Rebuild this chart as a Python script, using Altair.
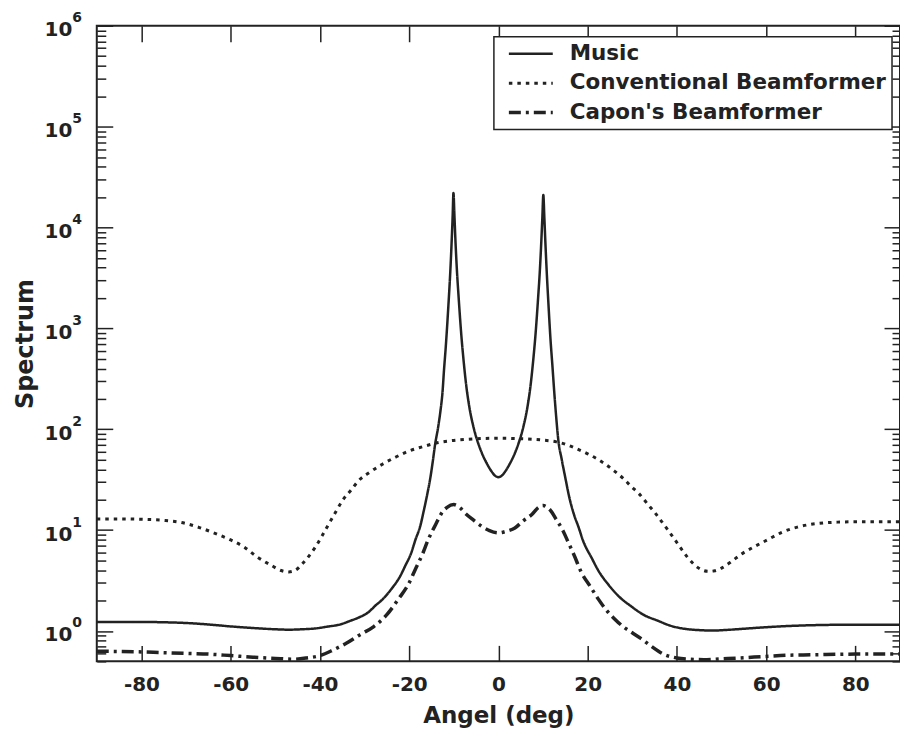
import altair as alt
import pandas as pd

# ---------------- data ----------------
series_names = ["Music", "Conventional Beamformer", "Capon's Beamformer"]

music_angle = [-90, -85, -80, -75, -70, -65, -60, -55, -50, -47, -44, -41, -38, -35.8, -33,
               -31.3, -29, -27.6, -26, -24, -22, -20.9, -19.5, -18.6, -17.5, -16.8, -16,
               -15.3, -14.7, -14.2, -13.5, -13, -12.5, -12.2, -11.8, -11.2, -10.8, -10.5,
               -10.25, -10.07, -9.85, -9.6, -9.3, -8.9, -8.3, -7.8, -7.2, -6.5, -5.6, -4.5,
               -3.7, -2.5, -1.5, -0.7, 0, 0.7, 1.5, 2.5, 3.7, 4.5, 5.6, 6.5, 7.2, 7.8, 8.3,
               8.9, 9.3, 9.6, 9.85, 10.07, 10.3, 10.55, 10.85, 11.2, 11.7, 12.1, 12.5, 13.0,
               13.4, 14.2, 15.0, 15.8, 17.0, 17.9, 19.0, 20.9, 22.5, 24.6, 27.0, 29.8, 32.5,
               35.8, 38.5, 41.8, 45, 47.8, 52, 56, 60, 65, 70, 75, 80, 85, 90]
music_value = [1.23, 1.23, 1.23, 1.22, 1.20, 1.16, 1.11, 1.07, 1.04, 1.03, 1.04, 1.06, 1.11,
               1.15, 1.27, 1.36, 1.55, 1.78, 2.05, 2.6, 3.5, 4.4, 6.0, 8.0, 11, 15, 22, 32,
               48, 70, 105, 150, 240, 380, 650, 1700, 3500, 6800, 13000, 22000, 13000, 7000,
               3800, 2000, 850, 480, 270, 165, 106, 72, 58, 45, 38, 34.5, 33.5, 34.5, 38, 45,
               58, 72, 106, 165, 270, 480, 850, 2000, 3800, 7000, 12500, 21000, 12500, 6800,
               3500, 1800, 750, 430, 240, 125, 80, 50, 33, 22, 14, 10.9, 7.8, 5.3, 3.9, 2.9,
               2.2, 1.75, 1.45, 1.26, 1.13, 1.05, 1.02, 1.01, 1.03, 1.06, 1.09, 1.12, 1.14,
               1.15, 1.15, 1.15, 1.15]

conv_angle = [-90, -85, -80, -75, -71.5, -67, -63, -60, -57, -54, -51, -48.5, -47, -45.5,
              -44, -42.5, -41, -39.5, -38, -36.5, -35, -33, -31.3, -29, -26, -23, -20, -17,
              -14, -10, -7, -3.5, 0, 3.5, 7.5, 10, 13, 15, 17.2, 20, 22.4, 24, 26, 28, 29.8,
              31.5, 33.5, 35, 36.5, 38, 39.5, 41, 42.5, 44, 45.5, 47, 48.5, 50, 52, 54.5,
              57.5, 60.5, 63.5, 67, 70, 73, 76, 80, 85, 90]
conv_value = [12.9, 12.9, 12.8, 12.5, 12.0, 10.6, 9.1, 8.0, 6.8, 5.4, 4.5, 3.95, 3.85, 4.0,
              4.6, 5.5, 6.8, 8.8, 11.5, 15, 19.5, 25, 31, 37, 45, 53, 61, 67, 73, 77.5, 79.5,
              81, 81.5, 81, 79.5, 78, 75, 71, 65, 57, 50, 45, 38.5, 32.5, 27, 23, 18, 15,
              12.3, 10, 8.1, 6.5, 5.3, 4.5, 4.05, 3.9, 3.95, 4.2, 4.8, 5.8, 6.9, 8.1, 9.5,
              10.7, 11.4, 11.8, 12.0, 12.1, 12.1, 12.1]

capon_angle = [-90, -80, -75, -70, -65, -60, -55, -50, -46, -43, -40, -37, -34, -31, -28,
               -25, -22.4, -20, -18.6, -17, -15.7, -14, -12.7, -11.5, -10, -8.5, -7.5, -5.5,
               -3.7, -2, 0, 2, 3.7, 5.5, 7.5, 9, 10, 11.5, 13, 14.5, 15.7, 17, 18.6, 20.5,
               22.4, 24, 26.1, 28, 30, 32, 34, 37, 40, 43, 46, 50, 54, 60, 65, 70, 80, 90]
capon_value = [0.63, 0.62, 0.61, 0.60, 0.59, 0.57, 0.55, 0.535, 0.525, 0.54, 0.57, 0.65, 0.76,
               0.92, 1.1, 1.45, 2.07, 3.0, 4.1, 5.8, 8.1, 11.5, 14.8, 16.8, 17.9, 16.5, 14.8,
               12.5, 10.9, 9.9, 9.4, 9.8, 10.5, 12.3, 14.3, 16.8, 17.5, 16, 12.7, 9.8, 7.5,
               5.6, 3.8, 2.8, 2.07, 1.65, 1.31, 1.1, 0.96, 0.84, 0.72, 0.59, 0.54, 0.525,
               0.52, 0.53, 0.54, 0.56, 0.575, 0.58, 0.59, 0.59]

x_ticks = [-80, -60, -40, -20, 0, 20, 40, 60, 80]
y_major = [1, 10, 100, 1000, 10000, 100000, 1000000]
y_minor = [m * 10.0 ** k for k in range(-1, 6) for m in range(2, 10) if 0.5 <= m * 10.0 ** k < 1e6]

# ---------------- table ----------------
frames = []
for name, ang, val in [(series_names[0], music_angle, music_value),
                       (series_names[1], conv_angle, conv_value),
                       (series_names[2], capon_angle, capon_value)]:
    frames.append(pd.DataFrame({"angle": ang, "value": val, "method": name}))
df = pd.concat(frames, ignore_index=True)

ink = "#222222"
font = "DejaVu Sans"

xscale = alt.Scale(domain=[-90, 90], nice=False, zero=False)
yscale = alt.Scale(type="log", domain=[0.5, 1e6], nice=False)

base = alt.Chart(df)


def tick_axis(orient, values, length):
    """Axis drawing only inward ticks of the given length."""
    return alt.Axis(orient=orient, values=values, offset=-length, tickSize=length,
                    domain=False, grid=False, labels=False, title=None,
                    tickColor=ink, tickWidth=1.5)


# main layer: the three curves, labels and titles
lines = base.mark_line(interpolate="monotone", clip=True, color=ink).encode(
    x=alt.X("angle:Q", scale=xscale,
            axis=alt.Axis(orient="bottom", values=x_ticks, ticks=False, tickSize=0,
                          domain=False, grid=False,
                          labelExpr="'' + datum.value", labelFont=font, labelFontSize=20,
                          labelFontWeight="bold", labelColor=ink, labelPadding=13,
                          title="Angel (deg)", titleFont=font, titleFontSize=23,
                          titleFontWeight="bold", titleColor=ink, titlePadding=10)),
    y=alt.Y("value:Q", scale=yscale,
            axis=alt.Axis(orient="left", values=y_major, ticks=False, tickSize=0,
                          domain=False, grid=False,
                          labelExpr="'10'", labelFont=font, labelFontSize=20,
                          labelFontWeight="bold", labelColor=ink, labelPadding=25, labelOffset=4,
                          title="Spectrum", titleFont=font, titleFontSize=24,
                          titleFontWeight="bold", titleColor=ink, titlePadding=7)),
    strokeDash=alt.StrokeDash("method:N",
                              scale=alt.Scale(domain=series_names,
                                              range=[[1, 0], [3.5, 5], [12, 5, 3, 5]]),
                              legend=alt.Legend(title=None, orient="none", legendX=398, legendY=11,
                                                symbolType="stroke", symbolSize=1936,
                                                symbolStrokeColor=ink, symbolStrokeWidth=2.5,
                                                labelFont=font, labelFontSize=21.5,
                                                labelFontWeight="bold", labelColor=ink,
                                                labelLimit=600, labelOffset=15, padding=5,
                                                symbolOffset=8, clipHeight=24, rowPadding=5.5,
                                                fillColor="white", strokeColor=ink)),
    strokeWidth=alt.StrokeWidth("method:N",
                                scale=alt.Scale(domain=series_names, range=[2.5, 3.5, 2.5]),
                                legend=None),
    detail="method:N",
)

ghost = dict(strokeOpacity=0, clip=True)

# top ticks + left minor ticks
layer_a = base.mark_line(**ghost).encode(
    x=alt.X("angle:Q", scale=xscale, axis=tick_axis("top", x_ticks, 16)),
    y=alt.Y("value:Q", scale=yscale, axis=tick_axis("left", y_minor, 9)),
    detail="method:N",
)

# bottom ticks + exponents of the left labels
layer_b = base.mark_line(**ghost).encode(
    x=alt.X("angle:Q", scale=xscale, axis=tick_axis("bottom", x_ticks, 16)),
    y=alt.Y("value:Q", scale=yscale,
            axis=alt.Axis(orient="left", values=y_major, ticks=False, tickSize=0, domain=False,
                          grid=False, title=None, labelAlign="left", labelPadding=25,
                          labelExpr="'' + round(log(datum.value) / LN10)", labelFont=font,
                          labelFontSize=14, labelFontWeight="bold", labelColor=ink,
                          labelOffset=-8)),
    detail="method:N",
)

# left major ticks
layer_c = base.mark_line(**ghost).encode(
    x=alt.X("angle:Q", scale=xscale, axis=None),
    y=alt.Y("value:Q", scale=yscale, axis=tick_axis("left", y_major, 16)),
    detail="method:N",
)

# right major ticks
layer_d = base.mark_line(**ghost).encode(
    x=alt.X("angle:Q", scale=xscale, axis=None),
    y=alt.Y("value:Q", scale=yscale, axis=tick_axis("right", y_major, 16)),
    detail="method:N",
)

# right minor ticks
layer_e = base.mark_line(**ghost).encode(
    x=alt.X("angle:Q", scale=xscale, axis=None),
    y=alt.Y("value:Q", scale=yscale, axis=tick_axis("right", y_minor, 8)),
    detail="method:N",
)

chart = alt.layer(
    layer_a, layer_b, layer_c, layer_d, layer_e, lines
).resolve_axis(
    x="independent", y="independent"
).properties(
    width=805, height=637,
    autosize=alt.AutoSizeParams(type="none"),
    padding={"left": 97, "top": 25, "right": 0, "bottom": 74},
    background="white",
).configure(
    font=font,
).configure_view(
    stroke=ink, strokeWidth=2,
).configure_legend(
    strokeWidth=1.5,
)

chart.save("out.html", embed_options={"renderer": "svg", "actions": False})
